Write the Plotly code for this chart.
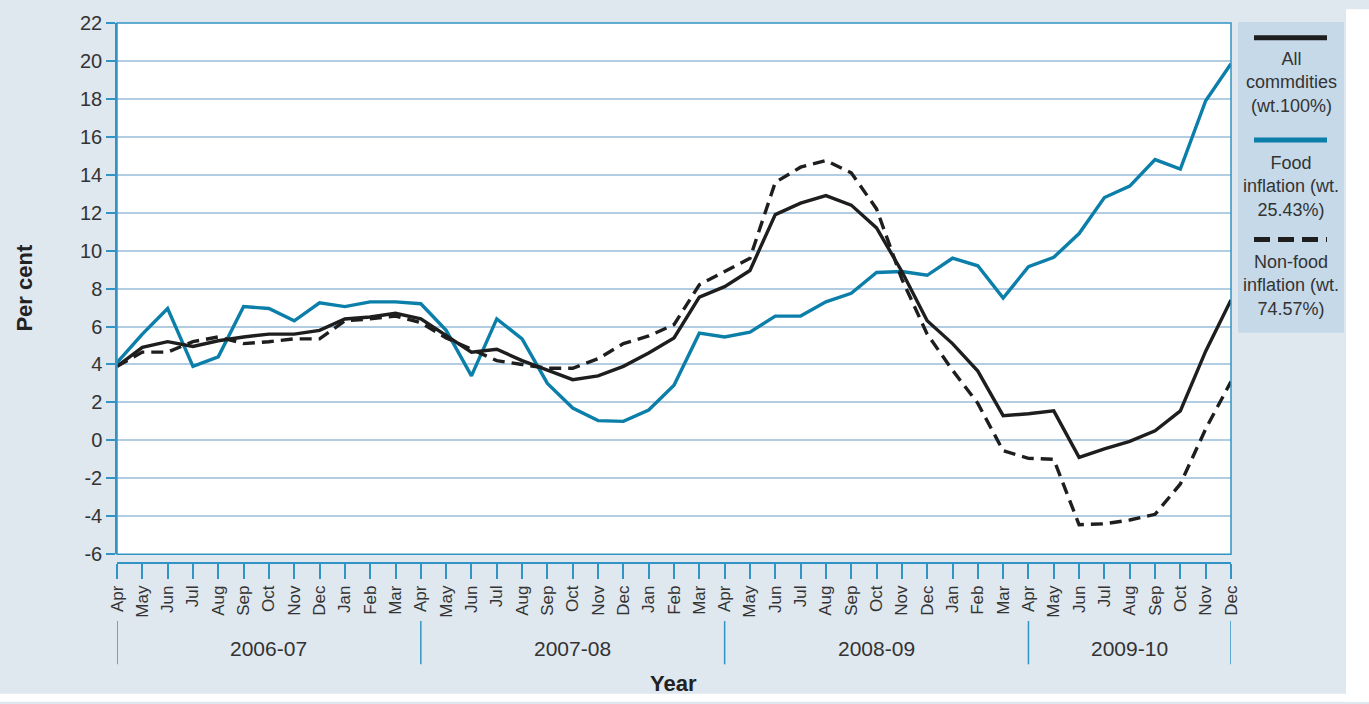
import plotly.graph_objects as go

months = ["Apr", "May", "Jun", "Jul", "Aug", "Sep", "Oct", "Nov", "Dec", "Jan", "Feb", "Mar"] * 3 + \
         ["Apr", "May", "Jun", "Jul", "Aug", "Sep", "Oct", "Nov", "Dec"]
fiscal_years = ["2006-07", "2007-08", "2008-09", "2009-10"]
fy_start_idx = [0, 12, 24, 36]
y_ticks = [-6, -4, -2, 0, 2, 4, 6, 8, 10, 12, 14, 16, 18, 20, 22]
y_tick_labels = ["-6", "-4", "-2", "0", "2", "4", "6", "8", "10", "12", "14", "16", "18", "20", "22"]

all_commodities = [3.9, 4.9, 5.2, 4.95, 5.25, 5.45, 5.6, 5.6, 5.8, 6.4, 6.5, 6.7,
                   6.4, 5.5, 4.65, 4.8, 4.2, 3.7, 3.2, 3.4, 3.9, 4.6, 5.4, 7.55,
                   8.1, 8.95, 11.9, 12.5, 12.9, 12.4, 11.2, 8.9, 6.3, 5.1, 3.65, 1.3,
                   1.4, 1.55, -0.9, -0.45, -0.05, 0.5, 1.55, 4.7, 7.4]
food = [4.1, 5.6, 6.95, 3.9, 4.4, 7.05, 6.95, 6.3, 7.25, 7.05, 7.3, 7.3,
        7.2, 5.8, 3.4, 6.4, 5.35, 3.0, 1.7, 1.04, 1.0, 1.6, 2.9, 5.65,
        5.45, 5.7, 6.55, 6.55, 7.3, 7.75, 8.85, 8.9, 8.7, 9.6, 9.2, 7.5,
        9.15, 9.65, 10.9, 12.8, 13.4, 14.8, 14.3, 17.9, 19.85]
non_food = [3.9, 4.65, 4.65, 5.2, 5.45, 5.1, 5.2, 5.35, 5.35, 6.3, 6.4, 6.55,
            6.2, 5.4, 4.8, 4.2, 4.0, 3.8, 3.8, 4.3, 5.1, 5.5, 6.1, 8.2,
            8.9, 9.6, 13.6, 14.4, 14.75, 14.1, 12.2, 8.5, 5.6, 3.7, 1.95, -0.55,
            -0.95, -1.0, -4.45, -4.4, -4.2, -3.9, -2.3, 0.6, 3.1]

x = list(range(len(months)))

BLUE = "#0b7fa9"
BLACK = "#1e1e1e"
AXIS = "#3294c4"
GRID = "#b2cde2"
BG = "#dfe7ef"
LEG = "#c5d9e9"
TXT = "#333333"
NARROW = "Liberation Sans Narrow, Arial Narrow, Liberation Sans, Arial, sans-serif"
BOLD = "Liberation Sans, Arial, sans-serif"

fig = go.Figure()
fig.add_trace(go.Scatter(x=x, y=food, mode="lines", name="Food inflation (wt. 25.43%)",
                         line=dict(color=BLUE, width=3.4)))
fig.add_trace(go.Scatter(x=x, y=non_food, mode="lines", name="Non-food inflation (wt. 74.57%)",
                         line=dict(color=BLACK, width=3.4, dash="12px,7px")))
fig.add_trace(go.Scatter(x=x, y=all_commodities, mode="lines", name="All commdities (wt.100%)",
                         line=dict(color=BLACK, width=3.4)))

W, H = 1369, 704
ml, mr, mt, mb = 117, W - 1231, 14, H - 563
ph = H - mt - mb
pw = W - ml - mr


def px(p):
    return (p - ml) / pw


def py(p):
    return (H - mb - p) / ph


shapes = []
# white strips outside the grey page
shapes.append(dict(type="rect", xref="paper", yref="paper", x0=px(1346), x1=px(W),
                   y0=py(H), y1=py(0), fillcolor="white", line=dict(width=0)))
shapes.append(dict(type="rect", xref="paper", yref="paper", x0=px(0), x1=px(W),
                   y0=py(H), y1=py(696), fillcolor="white", line=dict(width=0)))
# plot border
shapes.append(dict(type="rect", xref="x domain", yref="y domain", x0=0, x1=1, y0=0, y1=1,
                   line=dict(color=AXIS, width=1.5)))
# fiscal-year separators
for i in fy_start_idx + [len(months) - 1]:
    shapes.append(dict(type="line", xref="x", yref="paper", x0=i, x1=i, y0=py(622), y1=py(666),
                       line=dict(color=AXIS, width=1.5)))
# legend box
shapes.append(dict(type="rect", xref="paper", yref="paper", x0=px(1238), x1=px(1344),
                   y0=py(329), y1=py(13), fillcolor=LEG, line=dict(width=0)))
leg_x0, leg_x1 = px(1254), px(1327)
shapes.append(dict(type="line", xref="paper", yref="paper", x0=leg_x0, x1=leg_x1, y0=py(29), y1=py(29),
                   line=dict(color=BLACK, width=5)))
shapes.append(dict(type="line", xref="paper", yref="paper", x0=leg_x0, x1=leg_x1, y0=py(133), y1=py(133),
                   line=dict(color=BLUE, width=5)))
shapes.append(dict(type="line", xref="paper", yref="paper", x0=leg_x0, x1=leg_x1, y0=py(234), y1=py(234),
                   line=dict(color=BLACK, width=5, dash="16px,8px")))

annotations = []
for fy, s in zip(fiscal_years, fy_start_idx):
    e = min(s + 12, len(months) - 1)
    annotations.append(dict(x=(s + e) / 2, y=py(650), xref="x", yref="paper", text=fy, showarrow=False,
                            xanchor="center", yanchor="middle",
                            font=dict(family=NARROW, size=21, color=TXT)))
annotations.append(dict(x=px(673), y=py(686), xref="paper", yref="paper", text="<b>Year</b>",
                        showarrow=False, xanchor="center", yanchor="middle",
                        font=dict(family=BOLD, size=22, color="#222")))
annotations.append(dict(x=px(25), y=py(283), xref="paper", yref="paper", text="<b>Per cent</b>",
                        showarrow=False, textangle=-90, xanchor="center", yanchor="middle",
                        font=dict(family=BOLD, size=22, color="#222")))
leg_cx = px(1291)
for txt, cy in [("All<br>commdities<br>(wt.100%)", 74),
                ("Food<br>inflation (wt.<br>25.43%)", 180),
                ("Non-food<br>inflation (wt.<br>74.57%)", 281)]:
    annotations.append(dict(x=leg_cx, y=py(cy), xref="paper", yref="paper", text=txt, showarrow=False,
                            align="center", xanchor="center", yanchor="middle",
                            font=dict(family=NARROW, size=18, color=TXT)))

fig.update_layout(
    width=W, height=H,
    margin=dict(l=ml, r=mr, t=mt, b=mb, pad=0),
    paper_bgcolor=BG, plot_bgcolor="white",
    showlegend=False,
    shapes=shapes, annotations=annotations,
    xaxis=dict(range=[0, len(months) - 1], tickmode="array", tickvals=x, ticktext=months,
               tickangle=-90, anchor="free", position=0, showgrid=False, zeroline=False,
               showline=True, linecolor=AXIS, linewidth=1.5, ticks="outside", ticklen=15,
               tickcolor=AXIS, tickwidth=1.5,
               tickfont=dict(family=NARROW, size=17, color=TXT)),
    yaxis=dict(range=[-6, 22], tickmode="array", tickvals=y_ticks, ticktext=y_tick_labels,
               domain=[(563 - 554) / ph, 1],
               showgrid=True, gridcolor=GRID, gridwidth=1.5, zeroline=False,
               showline=True, linecolor=AXIS, linewidth=1.5, ticks="outside", ticklen=9,
               tickcolor=AXIS, tickwidth=1.5,
               tickfont=dict(family=NARROW, size=20, color=TXT)),
)

fig.write_html("out.html", config={"displayModeBar": False},
               post_script="document.body.style.margin='0px';")
